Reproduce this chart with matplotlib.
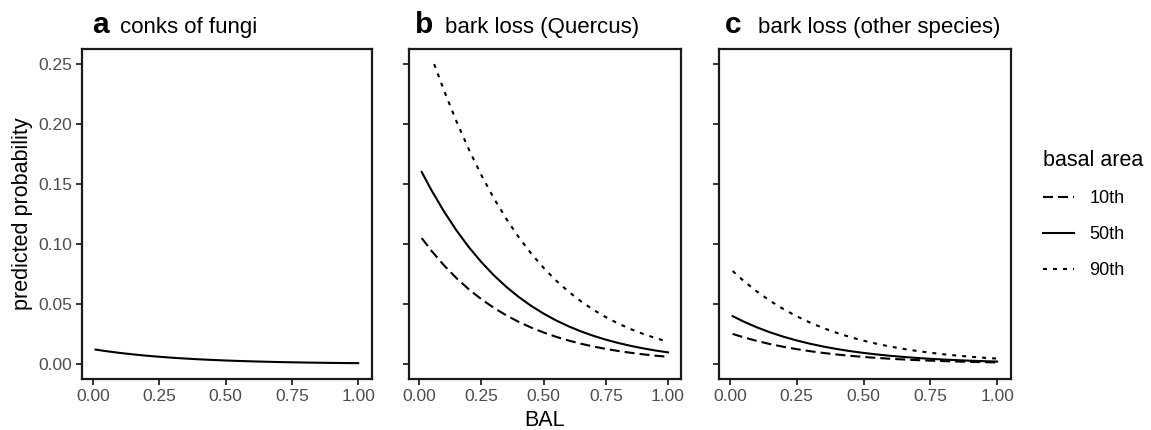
import matplotlib
matplotlib.use('Agg')
import matplotlib.pyplot as plt

plt.rcParams['font.family'] = ['Liberation Sans', 'DejaVu Sans']

W, H = 1151, 430

# BAL values (x axis)
bal = [0.01, 0.05, 0.10, 0.15, 0.20, 0.25, 0.30, 0.35, 0.40, 0.45, 0.50,
       0.55, 0.60, 0.65, 0.70, 0.75, 0.80, 0.85, 0.90, 0.95, 1.00]
# the 90th curve in panel b starts a bit later (clipped at 0.25)
bal_b90 = [0.06] + bal[2:]

# panel a: conks of fungi
conks = [0.01202, 0.01071, 0.00928, 0.00804, 0.00696, 0.00603, 0.00522, 0.00452, 0.00391, 0.00339, 0.00293,
         0.00253, 0.00220, 0.00190, 0.00164, 0.00142, 0.00123, 0.00106, 0.00092, 0.00080, 0.00069]

# panel b: bark loss (Quercus)
quercus_10 = [0.10490, 0.09415, 0.08212, 0.07150, 0.06215, 0.05396, 0.04680, 0.04055, 0.03509, 0.03036, 0.02624,
              0.02266, 0.01957, 0.01689, 0.01457, 0.01257, 0.01084, 0.00934, 0.00805, 0.00693, 0.00597]
quercus_50 = [0.16002, 0.14454, 0.12696, 0.11124, 0.09725, 0.08486, 0.07391, 0.06428, 0.05582, 0.04843, 0.04196,
              0.03633, 0.03143, 0.02717, 0.02348, 0.02027, 0.01750, 0.01510, 0.01302, 0.01122, 0.00968]
quercus_90 = [0.24993, 0.22776, 0.20205, 0.17858, 0.15730, 0.13812, 0.12095, 0.10565, 0.09208, 0.08010,
              0.06956, 0.06031, 0.05223, 0.04517, 0.03903, 0.03370, 0.02907, 0.02507, 0.02159, 0.01860]

# panel c: bark loss (other species)
other_10 = [0.02508, 0.02231, 0.01926, 0.01662, 0.01434, 0.01237, 0.01066, 0.00919, 0.00792, 0.00682, 0.00588,
            0.00506, 0.00436, 0.00376, 0.00324, 0.00278, 0.00240, 0.00207, 0.00178, 0.00153, 0.00132]
other_50 = [0.03990, 0.03548, 0.03062, 0.02640, 0.02275, 0.01960, 0.01687, 0.01452, 0.01249, 0.01074, 0.00924,
            0.00795, 0.00682, 0.00587, 0.00504, 0.00433, 0.00372, 0.00320, 0.00274, 0.00235, 0.00203]
other_90 = [0.07752, 0.06949, 0.06054, 0.05267, 0.04578, 0.03975, 0.03449, 0.02990, 0.02591, 0.02243, 0.01942,
            0.01680, 0.01453, 0.01256, 0.01086, 0.00938, 0.00810, 0.00700, 0.00604, 0.00522, 0.00451]

xticks = [0.0, 0.25, 0.5, 0.75, 1.0]
xtick_labels = ['0.00', '0.25', '0.50', '0.75', '1.00']
yticks = [0.0, 0.05, 0.10, 0.15, 0.20, 0.25]
ytick_labels = ['0.00', '0.05', '0.10', '0.15', '0.20', '0.25']

panel_letters = ['a', 'b', 'c']
panel_titles = ['conks of fungi', 'bark loss (Quercus)', 'bark loss (other species)']
legend_labels = ['10th', '50th', '90th']

lw = 1.5
styles = {
    '10th': dict(linestyle=(0, (4.8, 2.4))),
    '50th': dict(linestyle='-'),
    '90th': dict(linestyle=(0, (1.9, 2.9))),
}

fig = plt.figure(figsize=(W / 100, H / 100), dpi=100)


def px_axes(left, right, top, bottom):
    return fig.add_axes([left / W, 1 - bottom / H, (right - left) / W, (bottom - top) / H])


ax_a = px_axes(82, 372, 49, 379)
ax_b = px_axes(409, 681, 49, 379)
ax_c = px_axes(719, 1011, 49, 379)
axes = [ax_a, ax_b, ax_c]

ax_a.plot(bal, conks, color='black', lw=lw, **styles['50th'])

ax_b.plot(bal, quercus_10, color='black', lw=lw, label='10th', **styles['10th'])
ax_b.plot(bal, quercus_50, color='black', lw=lw, label='50th', **styles['50th'])
ax_b.plot(bal_b90, quercus_90, color='black', lw=lw, label='90th', **styles['90th'])

ax_c.plot(bal, other_10, color='black', lw=lw, **styles['10th'])
ax_c.plot(bal, other_50, color='black', lw=lw, **styles['50th'])
ax_c.plot(bal, other_90, color='black', lw=lw, **styles['90th'])

for i, ax in enumerate(axes):
    ax.set_xlim(-0.041, 1.052)
    ax.set_ylim(-0.0125, 0.2625)
    ax.set_xticks(xticks)
    ax.set_xticklabels(xtick_labels)
    ax.set_yticks(yticks)
    if i == 0:
        ax.set_yticklabels(ytick_labels)
    else:
        ax.set_yticklabels([])
    ax.tick_params(axis='both', length=4, width=1.4, color='#333333',
                   labelsize=12.5, labelcolor='#4d4d4d', pad=3)
    for sp in ax.spines.values():
        sp.set_linewidth(1.6)
        sp.set_color('#1a1a1a')

# panel titles
title_pos = [(92, 120), (415, 445), (725, 758)]
for (lx, tx), letter, title in zip(title_pos, panel_letters, panel_titles):
    fig.text(lx / W, 1 - 33 / H, letter, fontsize=21.5, fontweight='bold', va='baseline', ha='left')
    fig.text(tx / W, 1 - 33 / H, title, fontsize=16, va='baseline', ha='left')

fig.text(23 / W, 1 - 214 / H, 'predicted probability', rotation=90, fontsize=15.5, va='center', ha='center')
fig.text(545 / W, 1 - 420 / H, 'BAL', fontsize=15.5, va='center', ha='center')

handles, labels = ax_b.get_legend_handles_labels()
leg = fig.legend(handles, legend_labels, title='basal area', loc='upper left',
                 bbox_to_anchor=(1027 / W, 1 - 134 / H), frameon=False,
                 fontsize=13, title_fontsize=15.5, handlelength=1.7,
                 handletextpad=0.85, labelspacing=1.05, alignment='left')

fig.savefig('out.png', dpi=100, facecolor='white')
